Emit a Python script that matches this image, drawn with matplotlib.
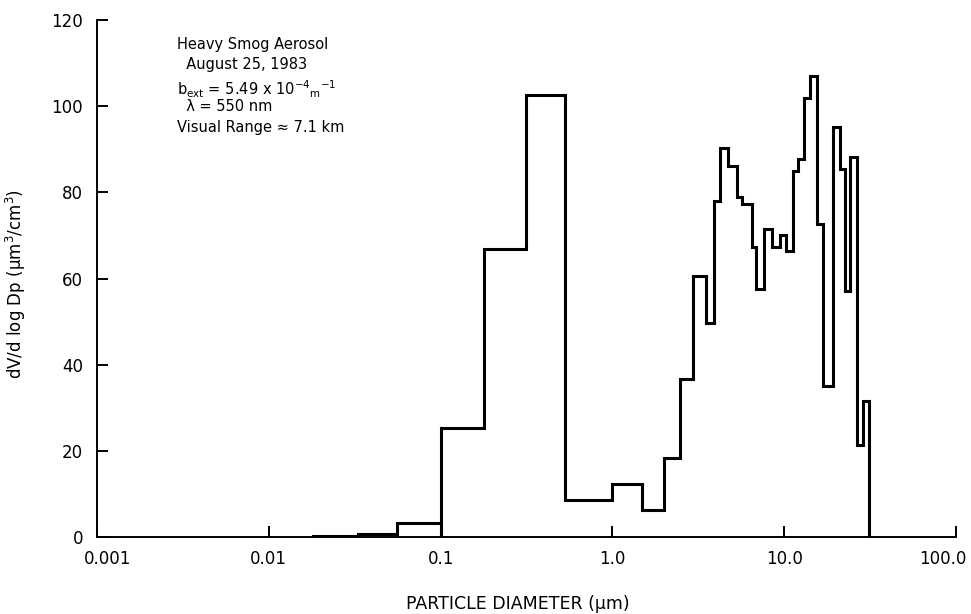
import matplotlib.pyplot as plt
from matplotlib.transforms import ScaledTranslation

# === Données ===
# premier instrument (petites particules)
edges_fine = [0.018, 0.033, 0.056, 0.1]
values_fine = [0.3, 0.6, 3.3]

# second instrument (0.1 à 31 µm)
edges_main = [0.1, 0.178, 0.316, 0.53, 1.0, 1.48, 2.0, 2.46, 2.93, 3.5, 3.88,
              4.24, 4.73, 5.34, 5.7, 6.46, 6.84, 7.64, 8.5, 9.44, 10.3, 11.3,
              12.0, 13.0, 14.1, 15.6, 16.8, 19.2, 21.0, 22.7, 24.2, 26.6,
              28.7, 31.0]
values_main = [25.2, 66.9, 102.6, 8.7, 12.3, 6.3, 18.3, 36.6, 60.6, 49.7,
               78.0, 90.4, 86.0, 78.9, 77.4, 67.2, 57.6, 71.6, 67.2, 70.0,
               66.5, 85.0, 87.8, 102.0, 107.0, 72.7, 35.0, 95.2, 85.5, 57.0,
               88.2, 21.4, 31.5]

x_ticks = [0.001, 0.01, 0.1, 1.0, 10.0, 100.0]
x_tick_labels = ["0.001", "0.01", "0.1", "1.0", "10.0", "100.0"]
y_ticks = [0, 20, 40, 60, 80, 100, 120]

info_lines = [
    "Heavy Smog Aerosol",
    "  August 25, 1983",
    r"b$_{ext}$ = 5.49 x 10$^{-4}$$_{m}$$^{-1}$",
    "  λ = 550 nm",
    "Visual Range ≈ 7.1 km",
]

plt.rcParams['font.family'] = ['DejaVu Sans']
plt.rcParams['mathtext.default'] = 'regular'

fig = plt.figure(figsize=(9.71, 6.14), dpi=100)
ax = fig.add_axes([0.0999, 0.1254, 0.8846, 0.842])

# histogrammes en escalier
ax.stairs(values_fine, edges_fine, baseline=0, color='black', lw=2.2)
ax.stairs(values_main, edges_main, baseline=0, color='black', lw=2.2)

ax.set_xscale('log')
ax.set_xlim(0.001, 100)
ax.set_ylim(0, 120)

ax.set_xticks(x_ticks)
ax.set_xticklabels(x_tick_labels)
ax.xaxis.set_minor_locator(plt.NullLocator())
ax.set_yticks(y_ticks)

ax.spines['top'].set_visible(False)
ax.spines['right'].set_visible(False)
ax.spines['left'].set_linewidth(1.4)
ax.spines['bottom'].set_linewidth(1.4)

ax.tick_params(axis='both', direction='in', length=8, width=1.4,
               labelsize=12)
ax.tick_params(axis='x', pad=9)
ax.tick_params(axis='y', pad=10)

# les étiquettes des extrémités sont décalées vers l'intérieur
xlabels = ax.get_xticklabels()
xlabels[0].set_transform(xlabels[0].get_transform() +
                         ScaledTranslation(11 / 100, 0, fig.dpi_scale_trans))
xlabels[-1].set_transform(xlabels[-1].get_transform() +
                          ScaledTranslation(-13 / 100, 0, fig.dpi_scale_trans))

ax.set_xlabel("PARTICLE DIAMETER (μm)", fontsize=12.5)
ax.xaxis.set_label_coords(0.49, -0.112)
ax.set_ylabel("dV/d log Dp (μm$^3$/cm$^3$)", fontsize=12)
ax.yaxis.set_label_coords(-0.08, 0.49)

# bloc de texte en haut à gauche
y0 = 0.968
for i, line in enumerate(info_lines):
    ax.text(0.093, y0 - i * 0.0405, line, transform=ax.transAxes,
            fontsize=10.5, va='top', ha='left')

fig.savefig("out.png", dpi=100)
